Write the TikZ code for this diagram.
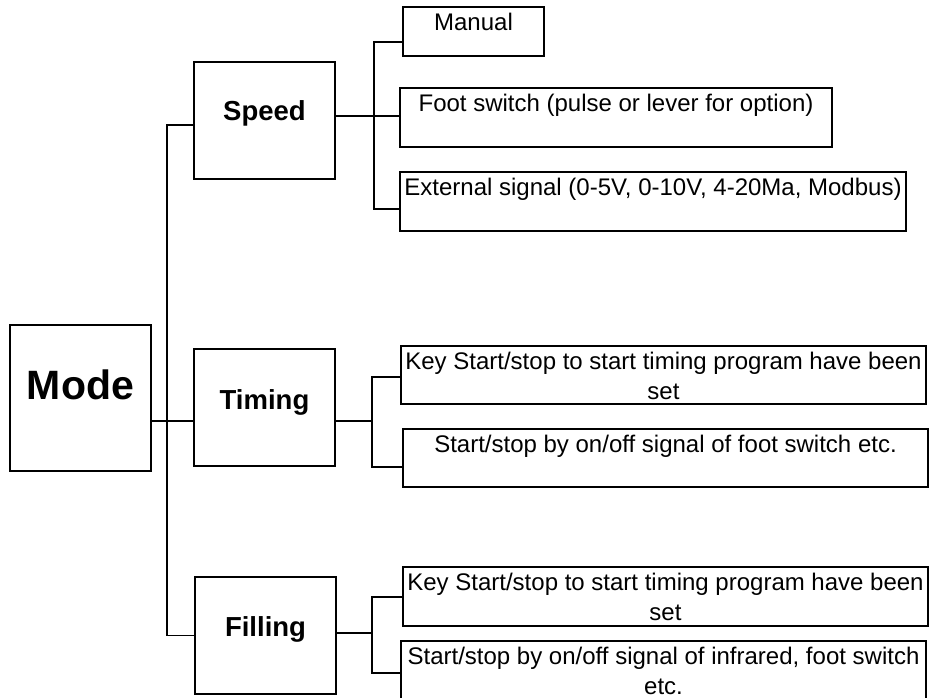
\documentclass[tikz,border=0pt]{standalone}
\usepackage{fontspec}
\setmainfont{Liberation Sans}
\begin{document}
\begin{tikzpicture}[x=1pt,y=-1pt,
  boxst/.style={draw=black,line width=1.9pt,inner sep=0pt,rectangle},
  itemtxt/.style={anchor=north,inner sep=0pt,align=center,font=\fontsize{24}{30}\selectfont},
  headtxt/.style={anchor=base,inner sep=0pt,font=\fontsize{27.5}{33}\selectfont\bfseries},
  modetxt/.style={anchor=base,inner sep=0pt,font=\fontsize{41}{48}\selectfont\bfseries},
  conn/.style={draw=black,line width=1.9pt}]
\fill[white] (0,0) rectangle (929,698);
\useasboundingbox (0,0) rectangle (929,698);

% level 1 and 2 boxes
\node[boxst,minimum width=141pt,minimum height=146pt] (mode) at (80.5,398) {};
\node[boxst,minimum width=141pt,minimum height=117pt] (speed) at (264.5,120.5) {};
\node[boxst,minimum width=141pt,minimum height=117pt] (timing) at (264.5,407.5) {};
\node[boxst,minimum width=141pt,minimum height=117pt] (filling) at (265.5,635.5) {};

\node[modetxt] (modet) at (80.5,399) {Mode};
\node[headtxt] (speedt) at (264.5,121) {Speed};
\node[headtxt] (timingt) at (264.5,409) {Timing};
\node[headtxt] (fillingt) at (265.5,636.5) {Filling};

% item boxes
\node[boxst,minimum width=141pt,minimum height=49pt] (manual) at (473.5,31.5) {};
\node[boxst,minimum width=432pt,minimum height=59pt] (foot) at (616,117.5) {};
\node[boxst,minimum width=506pt,minimum height=59pt] (ext) at (653,201.5) {};
\node[boxst,minimum width=525pt,minimum height=58pt] (tkey) at (663.5,375) {};
\node[boxst,minimum width=525pt,minimum height=58pt] (tfoot) at (665.5,458) {};
\node[boxst,minimum width=525pt,minimum height=59pt] (fkey) at (665.5,596.5) {};
\node[boxst,minimum width=525pt,minimum height=64pt] (finf) at (663.5,673) {};

\node[itemtxt] (manualt) at (473.5,9) {\strut Manual};
\node[itemtxt] (foott) at (616,90) {\strut Foot switch (pulse or lever for option)};
\node[itemtxt] (extt) at (653,174) {\strut External signal (0-5V, 0-10V, 4-20Ma, Modbus)};
\node[itemtxt] (tkeyt) at (663.5,348) {\strut Key Start/stop to start timing program have been\\\strut set};
\node[itemtxt] (tfoott) at (665.5,431) {\strut Start/stop by on/off signal of foot switch etc.};
\node[itemtxt] (fkeyt) at (665.5,569) {\strut Key Start/stop to start timing program have been\\\strut set};
\node[itemtxt] (finft) at (663.5,643) {\strut Start/stop by on/off signal of infrared, foot switch\\\strut etc.};

% bus coordinates
\coordinate (trunk) at (167,0);
\coordinate (sbus) at (374,0);
\coordinate (tbus) at (372,0);
\coordinate (fbus) at (372,0);

% trunk
\draw[conn] ([yshift=-4.5pt]speed.west) -| (trunk |- filling.west) -- (filling.west);
\draw[conn] ([yshift=-23pt]mode.east) -- ([yshift=-13.5pt]timing.west);

% speed branches
\coordinate (sp) at ([yshift=4.5pt]speed.east);
\draw[conn] (sp) -- (sp -| foot.west);
\draw[conn] ([yshift=-10.5pt]manual.west) -| (sbus |- sp) |- ([yshift=-7.5pt]ext.west);

% timing branches
\coordinate (tp) at ([yshift=-13.5pt]timing.east);
\draw[conn] (tp) -- (tp -| tbus);
\draw[conn] ([yshift=-2pt]tkey.west) -| (tbus |- tp) |- ([yshift=-9pt]tfoot.west);

% filling branches
\coordinate (fp) at ([yshift=2.5pt]filling.east);
\draw[conn] (fp) -- (fp -| fbus);
\draw[conn] ([yshift=-0.5pt]fkey.west) -| (fbus |- fp) |- (finf.west);
\end{tikzpicture}
\end{document}
